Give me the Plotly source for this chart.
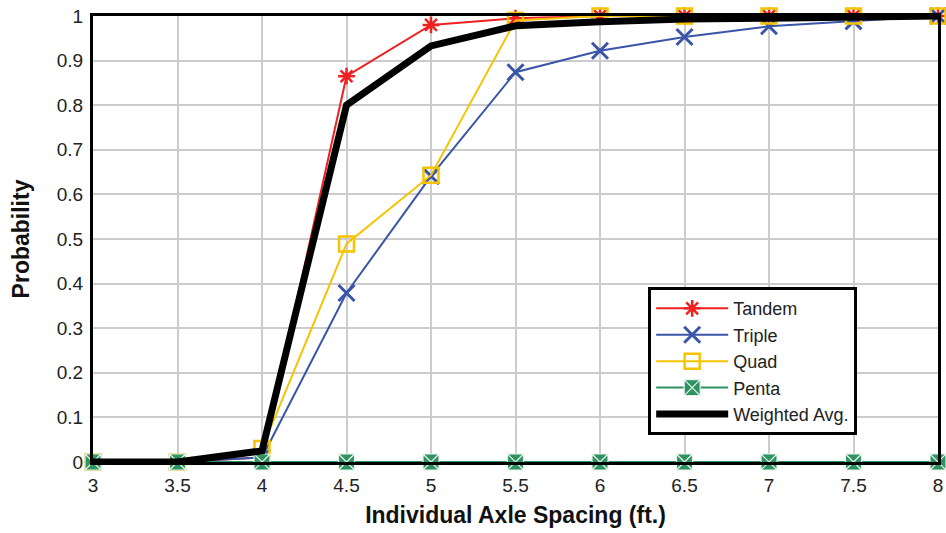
import plotly.graph_objects as go

spacing = [3, 3.5, 4, 4.5, 5, 5.5, 6, 6.5, 7, 7.5, 8]
tandem = [0, 0, 0.01, 0.865, 0.98, 0.995, 1, 1, 1, 1, 1]
triple = [0, 0, 0.01, 0.379, 0.641, 0.874, 0.922, 0.953, 0.977, 0.988, 1]
quad = [0, 0, 0.03, 0.489, 0.643, 0.99, 1, 1, 1, 1, 1]
penta = [0, 0, 0, 0, 0, 0, 0, 0, 0, 0, 0]
weighted = [0, 0, 0.025, 0.80, 0.933, 0.978, 0.987, 0.993, 0.995, 0.997, 1]
x_labels = ["3", "3.5", "4", "4.5", "5", "5.5", "6", "6.5", "7", "7.5", "8"]
y_ticks = [0, 0.1, 0.2, 0.3, 0.4, 0.5, 0.6, 0.7, 0.8, 0.9, 1]
y_labels = ["0", "0.1", "0.2", "0.3", "0.4", "0.5", "0.6", "0.7", "0.8", "0.9", "1"]

fig = go.Figure()
fig.add_trace(go.Scatter(x=spacing, y=tandem, name="Tandem", mode="lines+markers",
                         line=dict(color="#ee2020", width=2),
                         marker=dict(symbol="asterisk-open", size=14, line=dict(color="#ee2020", width=2.5)),
                         cliponaxis=False))
fig.add_trace(go.Scatter(x=spacing, y=triple, name="Triple", mode="lines+markers",
                         line=dict(color="#3a55a8", width=2),
                         marker=dict(symbol="x-thin-open", size=16, line=dict(color="#3a55a8", width=3)),
                         cliponaxis=False))
fig.add_trace(go.Scatter(x=spacing, y=quad, name="Quad", mode="lines+markers",
                         line=dict(color="#f5c400", width=2),
                         marker=dict(symbol="square-open", size=15, line=dict(color="#f5c400", width=2.5)),
                         cliponaxis=False))
fig.add_trace(go.Scatter(x=spacing, y=penta, name="Penta", mode="lines+markers",
                         line=dict(color="#2e9262", width=2),
                         marker=dict(symbol="square-x", size=16, color="#2e9262", line=dict(color="#e8f4ec", width=1.2)),
                         cliponaxis=False))
fig.add_trace(go.Scatter(x=spacing, y=weighted, name="Weighted Avg.", mode="lines",
                         line=dict(color="black", width=7), cliponaxis=False))

fig.update_layout(
    width=946, height=533,
    margin=dict(l=93, r=8, t=16, b=71, autoexpand=False),
    plot_bgcolor="white", paper_bgcolor="white",
    font=dict(family="Liberation Sans, Arial, sans-serif", size=19, color="#222"),
    showlegend=True,
    legend=dict(x=0.657, y=0.392, xanchor="left", yanchor="top",
                bgcolor="white", bordercolor="black", borderwidth=3,
                font=dict(size=18, color="#222"), itemwidth=72, tracegroupgap=0),
)
fig.update_xaxes(range=[3, 8], tickvals=spacing, ticktext=x_labels,
                 showgrid=True, gridcolor="#cccccc", gridwidth=1.5,
                 showline=True, linecolor="black", linewidth=3, mirror=True,
                 ticks="outside", ticklen=4, tickcolor="rgba(0,0,0,0)", zeroline=False, automargin=False,
                 tickfont=dict(size=19), ticklabeloverflow="allow",
                 title=dict(text="<b>Individual Axle Spacing (ft.)</b>", font=dict(size=23, color="#111"), standoff=13))
fig.update_yaxes(range=[0, 1], tickvals=y_ticks, ticktext=y_labels,
                 showgrid=True, gridcolor="#cccccc", gridwidth=1.5,
                 showline=True, linecolor="black", linewidth=3, mirror=True,
                 ticks="outside", ticklen=3, tickcolor="rgba(0,0,0,0)", zeroline=False, automargin=False,
                 tickfont=dict(size=19), ticklabeloverflow="allow",
                 title=dict(text="<b>Probability</b>", font=dict(size=23, color="#111"), standoff=21))

fig.write_html("out.html", config={"displayModeBar": False},
               post_script="document.body.style.margin='0';document.body.style.overflow='hidden';")
